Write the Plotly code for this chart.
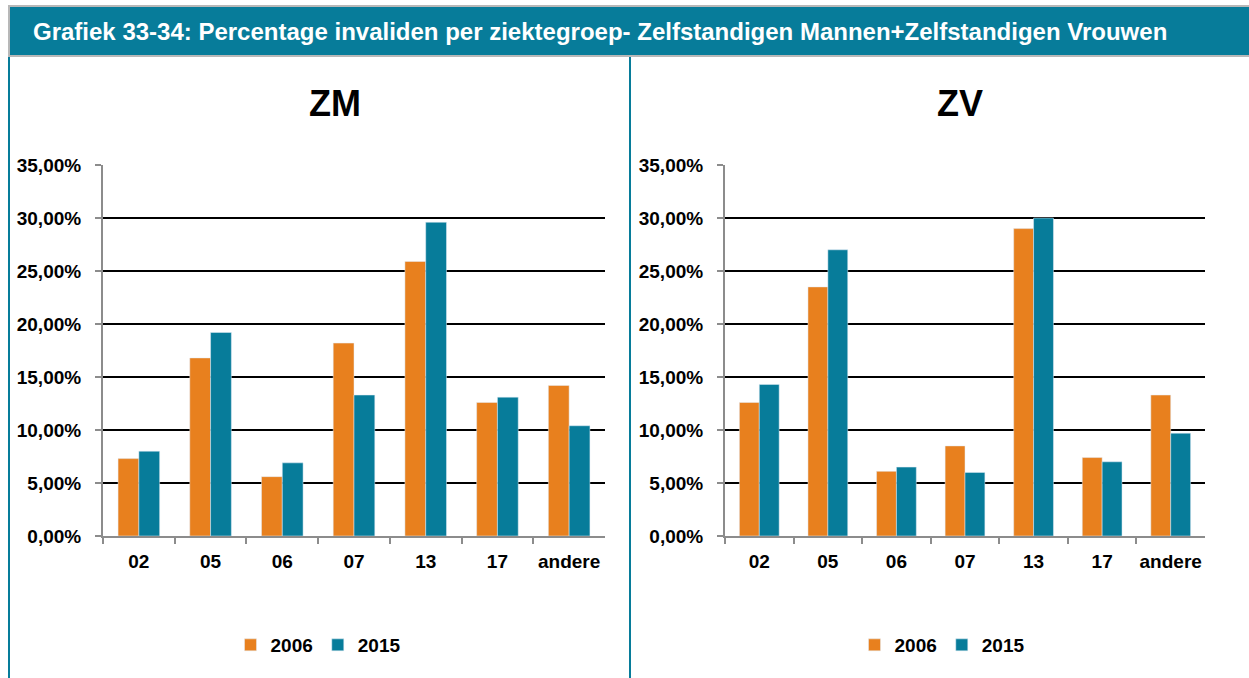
import plotly.graph_objects as go
from plotly.subplots import make_subplots

categories = ["02", "05", "06", "07", "13", "17", "andere"]
zm_2006 = [7.3, 16.8, 5.6, 18.2, 25.9, 12.6, 14.2]
zm_2015 = [8.0, 19.2, 6.9, 13.3, 29.6, 13.1, 10.4]
zv_2006 = [12.6, 23.5, 6.1, 8.5, 29.0, 7.4, 13.3]
zv_2015 = [14.3, 27.0, 6.5, 6.0, 30.0, 7.0, 9.7]
y_ticks = [0, 5, 10, 15, 20, 25, 30, 35]
y_labels = [f"{v:.2f}%".replace(".", ",") for v in y_ticks]

ORANGE = "#E8801E"
TEAL = "#077C9A"
FONT = "Liberation Sans"
W, H = 1249, 678

fig = make_subplots(rows=1, cols=2)

for col, (a, b, leg) in enumerate(
    [(zm_2006, zm_2015, "legend"), (zv_2006, zv_2015, "legend2")], start=1
):
    fig.add_trace(go.Bar(x=categories, y=a, name="2006", marker_color=ORANGE,
                         legend=leg), row=1, col=col)
    fig.add_trace(go.Bar(x=categories, y=b, name="2015", marker_color=TEAL,
                         legend=leg), row=1, col=col)

def px_x(v):
    return v / W

def px_y(v):
    return 1 - v / H

axis_x = dict(
    showline=True, linecolor="#8c8c8c", linewidth=2,
    ticks="outside", tickson="boundaries", ticklen=6, tickcolor="#8c8c8c",
    tickwidth=2, showgrid=False, ticklabelstandoff=7,
    tickfont=dict(family=FONT, size=19, color="black", weight="bold"),
)
axis_y = dict(
    range=[0, 35], tickvals=y_ticks, ticktext=y_labels,
    showline=True, linecolor="#8c8c8c", linewidth=2,
    ticks="outside", ticklen=6, tickcolor="#8c8c8c", tickwidth=2,
    showgrid=True, gridcolor="black", gridwidth=2, zeroline=False,
    ticklabelstandoff=10,
    tickfont=dict(family=FONT, size=19, color="black", weight="bold"),
)

fig.update_xaxes(**axis_x)
fig.update_yaxes(**axis_y)
fig.update_layout(
    xaxis=dict(domain=[px_x(103), px_x(605)]),
    xaxis2=dict(domain=[px_x(725), px_x(1205)]),
    yaxis=dict(domain=[px_y(536), px_y(165)]),
    yaxis2=dict(domain=[px_y(536), px_y(165)]),
)

fig.update_layout(
    width=W, height=H,
    margin=dict(l=0, r=0, t=0, b=0, autoexpand=False),
    paper_bgcolor="white", plot_bgcolor="white",
    barmode="group", bargap=0.42, bargroupgap=0,
    font=dict(family=FONT, color="black"),
    legend=dict(orientation="h", x=px_x(318), y=px_y(645), xanchor="center",
                yanchor="middle", font=dict(size=19, weight="bold"),
                itemwidth=30, tracegroupgap=0),
    legend2=dict(orientation="h", x=px_x(942), y=px_y(645), xanchor="center",
                 yanchor="middle", font=dict(size=19, weight="bold"),
                 itemwidth=30, tracegroupgap=0),
    shapes=[
        dict(type="rect", xref="paper", yref="paper",
             x0=px_x(9), x1=1.01, y0=px_y(56), y1=px_y(6),
             fillcolor=TEAL, line=dict(color="#b8b8b8", width=2)),
        dict(type="line", xref="paper", yref="paper",
             x0=px_x(9), x1=px_x(9), y0=px_y(57), y1=0,
             line=dict(color=TEAL, width=2)),
        dict(type="line", xref="paper", yref="paper",
             x0=px_x(630), x1=px_x(630), y0=px_y(57), y1=0,
             line=dict(color=TEAL, width=2)),
    ],
    annotations=[
        dict(text="Grafiek 33-34: Percentage invaliden per ziektegroep- Zelfstandigen Mannen+Zelfstandigen Vrouwen",
             xref="paper", yref="paper", x=px_x(31), y=px_y(31),
             xanchor="left", yanchor="middle", showarrow=False,
             font=dict(family=FONT, size=24, color="white", weight="bold")),
        dict(text="ZM", xref="paper", yref="paper", x=px_x(335), y=px_y(104),
             xanchor="center", yanchor="middle", showarrow=False,
             font=dict(family=FONT, size=36, color="black", weight="bold")),
        dict(text="ZV", xref="paper", yref="paper", x=px_x(960), y=px_y(104),
             xanchor="center", yanchor="middle", showarrow=False,
             font=dict(family=FONT, size=36, color="black", weight="bold")),
    ],
)

fig.write_html(
    "out.html",
    config={"displayModeBar": False},
    post_script="document.body.style.margin='0';"
                "document.body.style.overflow='hidden';",
)
